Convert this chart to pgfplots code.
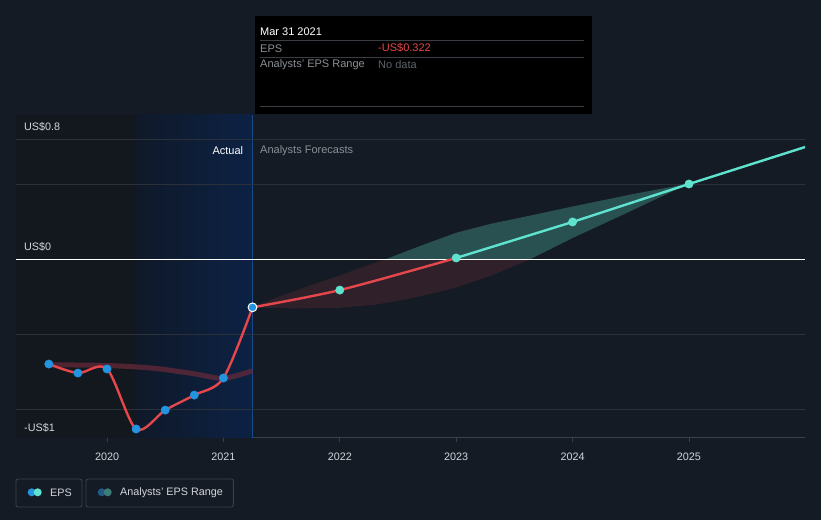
\documentclass[border=0pt]{standalone}
\usepackage{fontspec}
\setmainfont{Liberation Sans}
\usepackage{pgfplots}
\pgfplotsset{compat=1.18}

\definecolor{bg}{HTML}{151B24}
\definecolor{leftdark}{HTML}{13171E}
\definecolor{blueL}{HTML}{0F1929}
\definecolor{blueR}{HTML}{0C2244}
\definecolor{gridc}{HTML}{2B313B}
\definecolor{axisgray}{HTML}{3A3F48}
\definecolor{vline}{HTML}{1B4A8A}
\definecolor{epsblue}{HTML}{2394DF}
\definecolor{epscyan}{HTML}{5FE3CF}
\definecolor{epsred}{HTML}{E5474C}
\definecolor{pastband}{HTML}{6B2A3A}
\definecolor{txt}{HTML}{D3D6DB}
\definecolor{grayt}{HTML}{8B9097}
\definecolor{dgrayt}{HTML}{5E636B}
\definecolor{tipline}{HTML}{3A3D44}
\definecolor{legdotA}{HTML}{235A85}
\definecolor{legdotB}{HTML}{3D7D78}

\newcommand\fs[1]{\fontsize{#1}{#1}\selectfont}

\begin{document}
\begin{tikzpicture}
\fill[bg] (0,0) rectangle (821bp,520bp);

\begin{axis}[
  at={(16bp,82bp)}, anchor=south west,
  scale only axis, width=789bp, height=323bp,
  xmin=2019.218, xmax=2025.997,
  ymin=-1.193, ymax=0.96,
  axis x line=bottom, axis y line=none,
  x axis line style={draw=axisgray, line width=1bp, -},
  xtick={2020,2021,2022,2023,2024,2025},
  xticklabels={2020,2021,2022,2023,2024,2025},
  xticklabel style={font=\fs{10.8bp}, text=txt, anchor=center, yshift=-14.3bp},
  tick align=outside, major tick length=4bp,
  xtick style={draw=axisgray, line width=0.8bp},
  ytick=\empty,
]
  % shaded periods
  \fill[leftdark] (axis cs:2019.218,-1.193) rectangle (axis cs:2020.25,0.96);
  \fill[left color=blueL, right color=blueR] (axis cs:2020.25,-1.193) rectangle (axis cs:2021.25,0.96);
  \draw[vline, line width=0.8bp] (axis cs:2021.25,-1.193) -- (axis cs:2021.25,0.96);

  % grid
  \draw[gridc, line width=0.8bp] (axis cs:2019.218,0.8) -- (axis cs:2025.997,0.8);
  \draw[gridc, line width=0.8bp] (axis cs:2019.218,0.5) -- (axis cs:2025.997,0.5);
  \draw[gridc, line width=0.8bp] (axis cs:2019.218,-0.5) -- (axis cs:2025.997,-0.5);
  \draw[gridc, line width=0.8bp] (axis cs:2019.218,-1) -- (axis cs:2025.997,-1);

  % past analyst range
  \addplot[pastband, line width=5bp, smooth, opacity=0.7] coordinates {
    (2019.5,-0.705) (2020,-0.71) (2020.4,-0.728) (2020.75,-0.765) (2021,-0.795) (2021.25,-0.745)};

  % forecast range, part below zero
  \addplot[fill=epsred, fill opacity=0.13, draw=none] coordinates {
    (2021.25,-0.322) (2021.5,-0.245) (2021.75,-0.175) (2022,-0.11) (2022.2,-0.052) (2022.4,0)
    (2023.64,0)
    (2023.3,-0.11) (2023,-0.19) (2022.6,-0.265) (2022.3,-0.305) (2022,-0.325) (2021.6,-0.33)} -- cycle;
  % forecast range, part above zero
  \addplot[fill=epscyan, fill opacity=0.27, draw=none] coordinates {
    (2022.4,0) (2022.7,0.09) (2023,0.175) (2023.3,0.235) (2023.64,0.29) (2024,0.35) (2024.5,0.43) (2025,0.503)
    (2024.5,0.32) (2024,0.14) (2023.64,0)} -- cycle;

  % zero line
  \draw[white, line width=0.9bp] (axis cs:2019.218,0) -- (axis cs:2025.997,0);

  % EPS lines
  \addplot[epsred, line width=2.4bp, smooth] coordinates {
    (2019.5,-0.70) (2019.75,-0.76) (2020,-0.733) (2020.25,-1.133) (2020.5,-1.007)
    (2020.75,-0.907) (2021,-0.793) (2021.25,-0.322)};
  \addplot[epsred, line width=2.4bp, smooth] coordinates {
    (2021.25,-0.322) (2022,-0.207) (2023,0.007)};
  \addplot[epscyan, line width=2.4bp] coordinates {
    (2023,0.007) (2024,0.247) (2025,0.50) (2026,0.747)};

  % markers
  \addplot[only marks, mark=*, mark size=4.2bp, mark options={fill=epsblue, draw=epsblue}] coordinates {
    (2019.5,-0.70) (2019.75,-0.76) (2020,-0.733) (2020.25,-1.133) (2020.5,-1.007)
    (2020.75,-0.907) (2021,-0.793)};
  \addplot[only marks, mark=*, mark size=4.4bp, mark options={fill=epsblue, draw=white, line width=1bp}] coordinates {
    (2021.25,-0.322)};
  \addplot[only marks, mark=*, mark size=4.2bp, mark options={fill=epscyan, draw=epscyan}] coordinates {
    (2022,-0.207) (2023,0.007) (2024,0.247) (2025,0.50) (2026,0.747)};
\end{axis}

% value labels
\node[anchor=west, inner sep=0, text=txt, font=\fs{10.8bp}] at (24bp,393.3bp) {US\$0.8};
\node[anchor=west, inner sep=0, text=txt, font=\fs{10.8bp}] at (24bp,272.7bp) {US\$0};
\node[anchor=west, inner sep=0, text=txt, font=\fs{10.8bp}] at (24bp,92.3bp) {-US\$1};
\node[anchor=east, inner sep=0, text=white, font=\fs{11bp}] at (243.3bp,369bp) {Actual};
\node[anchor=west, inner sep=0, text=grayt, font=\fs{11bp}] at (260bp,369bp) {Analysts Forecasts};

% tooltip
\fill[black] (255bp,406bp) rectangle (592bp,504bp);
\node[anchor=west, inner sep=0, text=white, font=\fs{11bp}] at (260bp,488.5bp) {Mar 31 2021};
\draw[tipline, line width=0.8bp] (260bp,480bp) -- (584bp,480bp);
\node[anchor=west, inner sep=0, text=grayt, font=\fs{11bp}] at (260bp,471.7bp) {EPS};
\node[anchor=west, inner sep=0, text=epsred, font=\fs{11bp}] at (378bp,471.7bp) {-US\$0.322};
\draw[tipline, line width=0.8bp] (260bp,462.7bp) -- (584bp,462.7bp);
\node[anchor=west, inner sep=0, text=grayt, font=\fs{11bp}] at (260bp,455bp) {Analysts' EPS Range};
\node[anchor=west, inner sep=0, text=dgrayt, font=\fs{11bp}] at (378bp,455bp) {No data};
\draw[tipline, line width=0.8bp] (260bp,413.3bp) -- (584bp,413.3bp);

% legend
\draw[axisgray, line width=0.9bp, rounded corners=2bp] (16bp,13bp) rectangle (82bp,41bp);
\fill[epsblue] (31.7bp,27.7bp) circle (4bp);
\fill[epscyan] (37.7bp,27.7bp) circle (4bp);
\node[anchor=west, inner sep=0, text=txt, font=\fs{10.8bp}] at (50bp,27.7bp) {EPS};
\draw[axisgray, line width=0.9bp, rounded corners=2bp] (86bp,13bp) rectangle (233.3bp,41bp);
\fill[legdotA] (101.7bp,27.7bp) circle (4bp);
\fill[legdotB] (107.7bp,27.7bp) circle (4bp);
\node[anchor=west, inner sep=0, text=txt, font=\fs{10.8bp}] at (120bp,27.7bp) {Analysts' EPS Range};
\end{tikzpicture}
\end{document}
